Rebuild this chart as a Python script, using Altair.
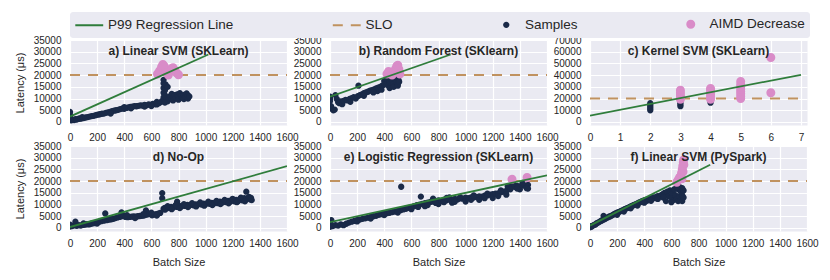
import altair as alt
import pandas as pd

# ---------------- data ----------------
ITEMS = ["P99 Regression Line", "SLO", "Samples", "AIMD Decrease"]
ITEM_COLORS = ["#2f7d3b", "#c0925f", "#1a2a48", "#d98cc8"]
SLO_LATENCY = 20000

panel_titles = [
    "a) Linear SVM (SKLearn)", "b) Random Forest (SKlearn)", "c) Kernel SVM (SKLearn)",
    "d) No-Op", "e) Logistic Regression (SKLearn)", "f) Linear SVM (PySpark)",
]

a_samples = [(0,4300),(0,3000),(0,1800),(0,900),(10,700),(20,1000),(30,800),(40,1200),(50,1000),(60,1300),
             (70,1500),(80,1400),(90,2100),(100,1700),(115,1900),(130,2100),(145,2300),(160,2500),(175,2600),
             (190,2900),(205,3100),(220,3300),(235,3500),(250,3600),(265,3900),(280,4100),(295,4300),(310,4600),
             (325,4800),(340,5000),(355,5200),(370,5500),(385,5700),(400,6300),(400,5600),(415,6000),(430,6200),
             (445,6400),(460,6500),(475,6800),(490,6700),(505,6900),(520,7100),(535,7000),(550,7300),(550,6600),
             (565,7100),(580,7500),(595,7300),(610,7700),(625,7600),(640,8600),(640,7500),(655,8000),(670,8500),
             (680,9000),(690,10500),(690,12500),(690,14500),(690,16500),(690,18000),(700,9500),(700,11500),
             (700,13500),(705,16000),(715,9800),(720,15000),(720,8800),(730,10200),(740,11000),(750,9800),
             (750,12000),(760,10500),(760,9200),(770,11500),(780,10400),(790,11800),(800,10800),(800,9500),
             (810,12300),(820,11000),(830,10300),(840,11600),(840,9800),(850,10800),(860,12200),(870,11300),
             (870,10000),(880,10900),(300,3600),(450,5800),(600,6800),(700,8300)]
a_aimd = [(645,20500),(660,21800),(675,23500),(685,24500),(695,23800),(705,22500),(715,21000),(725,20000),
          (740,21500),(750,22800),(760,23200),(772,22000),(785,21000),(800,20200)]

b_samples = [(0,10800),(0,9800),(0,9000),(8,6800),(15,5600),(25,5000),(35,5300),(40,11500),(50,9800),(60,8400),
             (70,8000),(80,8800),(90,7600),(100,9000),(115,9400),(130,9200),(145,9800),(160,10200),(175,10600),
             (190,10000),(205,11000),(210,15500),(220,11500),(235,11800),(250,12300),(265,12600),(280,12900),
             (295,13400),(310,13600),(325,13900),(340,14300),(350,13200),(355,14700),(370,15000),(380,13800),
             (385,15500),(400,16000),(400,17500),(415,16200),(420,18500),(430,15600),(440,17000),(440,14500),
             (450,16800),(460,17800),(470,16000),(470,15000),(480,18500),(490,17000),(500,19000),(500,16200),
             (500,15500),(505,18000),(510,20000),(510,17200),(150,8600),(250,11200),(320,12600)]
b_aimd = [(420,20500),(432,21500),(445,20800),(458,20000),(470,21200),(482,22500),(492,23800),(500,24200),
          (508,22500),(515,20500)]

c_samples = [(2,10000),(2,11500),(2,13000),(2,14500),(2,16000),(3,13500),(3,15000),(3,16500),(4,16500),(4,18000)]
c_aimd = [(3,19500),(3,21000),(3,23000),(3,25000),(3,27000),(4,19500),(4,21500),(4,23500),(4,25500),(4,27500),
          (4,28500),(5,20000),(5,22000),(5,24000),(5,26000),(5,28000),(5,30000),(5,32000),(5,34500),(6,25000),
          (6,55000)]

d_samples = [(0,600),(0,1400),(15,800),(30,1100),(40,2700),(50,900),(65,1200),(80,1000),(95,1300),(110,1400),
             (125,1600),(140,1500),(155,1800),(170,2000),(185,2100),(200,2400),(215,2600),(230,2900),(245,3100),
             (260,6200),(260,3300),(275,3400),(290,3600),(305,3700),(320,3900),(335,4200),(350,4500),(365,4700),
             (380,6600),(380,5000),(395,5100),(410,4700),(425,4600),(440,4700),(455,4800),(470,4900),(485,4800),
             (500,5000),(515,5100),(530,5200),(545,5300),(560,7500),(560,5600),(575,5800),(590,6000),(605,5400),
             (620,5700),(635,5900),(650,6100),(665,6400),(680,12700),(680,14900),(690,8200),(700,8600),(715,8400),
             (730,8800),(745,9000),(760,8700),(775,9200),(790,11200),(790,9000),(805,9400),(820,9200),(835,9600),
             (850,9400),(865,9800),(880,9600),(895,10000),(910,9700),(925,10100),(940,9900),(955,10300),
             (970,10000),(985,10400),(1000,10200),(1015,10600),(1030,10300),(1045,10700),(1060,10400),
             (1075,11000),(1090,10600),(1105,11200),(1120,10800),(1135,11400),(1150,11000),(1165,11600),
             (1180,11200),(1195,12200),(1210,11400),(1225,12000),(1240,11500),(1255,12400),(1270,11800),
             (1285,12700),(1300,15500),(1300,12300),(1315,12900),(1330,12200),(1340,11900),
             (700,7800),(720,9300),(750,8000),(780,9800),(810,8500),(840,10200),(870,8900),(900,10600),
             (930,9200),(960,10900),(990,9500),(1020,11200),(1050,9800),(1080,11600),(1110,10200),(1140,12000),
             (1170,10500),(1200,12400),(1230,11000),(1260,12900),(1290,11400),(1320,13300),(1335,12800),
             (420,5500),(480,4200),(540,5900),(600,6500),(640,5300),(300,4200),(200,1900),(100,1900)]
d_aimd = []

e_samples = [(0,500),(0,1500),(0,2500),(10,3300),(20,800),(40,1200),(60,1000),(80,1500),(100,1200),(120,1800),
             (140,2300),(160,2700),(180,3000),(200,3400),(220,3600),(240,3900),(260,4100),(280,4400),(300,4700),
             (320,5000),(340,5200),(360,5600),(380,5900),(400,6200),(420,6300),(440,6500),(460,6800),(480,7000),
             (500,7300),(520,7600),(525,17600),(540,7900),(560,8200),(580,8600),(600,8900),(620,9300),(640,9700),
             (660,10000),(670,13400),(680,10300),(700,10600),(700,9300),(720,10800),(740,11100),(760,11300),
             (760,12500),(780,11600),(800,11800),(800,10200),(820,11500),(840,12000),(860,11800),(880,12200),
             (880,13000),(900,12000),(900,10800),(920,12400),(940,12200),(960,12600),(980,12500),(1000,12900),
             (1000,11300),(1020,12700),(1040,13100),(1060,13000),(1080,13300),(1100,13500),(1100,12000),
             (1120,13400),(1140,13800),(1160,13900),(1180,14200),(1200,14400),(1200,12800),(1220,14600),
             (1240,14800),(1260,15200),(1280,15500),(1300,15800),(1300,14200),(1310,17800),(1320,17400),
             (1340,17800),(1360,17600),(1380,18000),(1400,17700),(1400,16500),(1420,18200),(1440,17900),
             (1460,18400),(1460,16800),
             (600,8000),(650,9000),(720,9800),(780,10700),(840,11000),(860,12800),(920,11200),(960,13200),
             (1040,12000),(1060,13900),(1140,12700),(1160,14600),(1240,13600),(1260,16000),(1330,16500),
             (1350,19000),(1380,16800),(1420,19200),(1450,17000),(300,4000),(400,5500),(500,6600),(200,2800)]
e_aimd = [(1342,20800),(1453,21600)]

f_samples = [(0,300),(0,800),(10,500),(20,900),(30,1300),(40,1500),(50,2000),(60,2300),(70,2600),(80,3000),
             (90,3300),(100,5200),(100,3600),(110,3800),(120,4200),(130,4500),(140,4800),(150,5000),(160,5300),
             (170,5600),(180,6000),(190,6200),(200,6500),(210,6700),(220,7000),(230,7300),(240,7500),(250,7800),
             (260,8100),(270,8400),(280,8600),(290,8900),(300,9200),(310,9400),(320,9700),(330,10000),(340,10200),
             (350,10500),(360,10800),(370,11000),(380,11300),(390,11600),(400,11800),(410,12000),(420,11600),
             (430,12300),(440,12000),(450,12600),(460,12800),(470,13000),(480,12700),(490,13300),(500,13600),
             (510,13300),(520,13800),(530,14100),(540,14500),(550,15000),(560,14200),(570,15500),(580,13500),
             (590,16000),(600,13000),(610,15000),(620,12000),(630,14000),(640,12500),(650,16500),(650,11500),
             (660,13500),(660,17500),(670,12000),(670,15500),(680,11500),(680,14000),(680,17000),(690,13000),
             (690,16000),
             (200,5600),(250,7000),(300,8400),(350,9600),(400,10800),(450,11600),(500,12400),(540,13000),
             (620,16500),(640,17500),(600,11000),(560,11500)]
f_aimd = [(640,19500),(650,20500),(660,21500),(668,22000),(675,23500),(680,25000),(684,26500),(688,28000),
          (690,29000),(692,27000),(686,24000),(678,21000)]

# regression line end points: (batch0, latency0, batch1, latency1)
reg_lines = [(0,2300,1020,28800),(0,10800,890,28800),(0,5400,7,40300),
             (0,400,1600,26400),(0,2500,1600,22500),(0,1000,886,27000)]

batch_ticks = [0,200,400,600,800,1000,1200,1400,1600]
kernel_ticks = [0,1,2,3,4,5,6,7]
latency_ticks = [0,5000,10000,15000,20000,25000,30000,35000]
kernel_latency_ticks = [0,10000,20000,30000,40000,50000,60000,70000]

# ---------------- style ----------------
FONT = "Liberation Sans"
BG = "#EAEAF2"
TXT = "#262626"
S = 81
# every legend symbol spans the same width (a short handle), so entries line up alike
LINE_PATH = "M-3.1,0L3.1,0"
DOT_PATH = "M-3.1,0L-3.1,0M3.1,0L3.1,0M-0.7,0A0.7,0.7,0,1,1,0.7,0A0.7,0.7,0,1,1,-0.7,0Z"
BIG_DOT_PATH = "M-3.1,0L-3.1,0M3.1,0L3.1,0M-1,0A1,1,0,1,1,1,0A1,1,0,1,1,-1,0Z"

legend_def = alt.Legend(
    title=None, orient="none", legendX=0, legendY=-28, direction="horizontal", columns=4,
    gridAlign="each", columnPadding=94.5, fillColor=BG, padding=5, cornerRadius=3,
    labelFont=FONT, labelFontSize=13.5, labelColor=TXT, symbolSize=S, symbolStrokeWidth=2,
    symbolOffset=7.5, labelOffset=12,
)


def panel(i, samples, aimd, reg, x_dom, x_ticks, y_dom, y_ticks, slo_x, left, bottom):
    rows = [(b, l, "Samples") for b, l in samples] + [(b, l, "AIMD Decrease") for b, l in aimd]
    pts = pd.DataFrame(rows, columns=["batch", "latency", "item"])
    reg_df = pd.DataFrame({"batch": [reg[0], reg[2]], "latency": [reg[1], reg[3]]})
    slo_df = pd.DataFrame({"batch": slo_x, "latency": [SLO_LATENCY, SLO_LATENCY]})

    x = alt.X("batch:Q", scale=alt.Scale(domain=x_dom, nice=False, zero=False),
              axis=alt.Axis(values=x_ticks, format="d", labelOverlap=False, labelFlush=False,
                            title="Batch Size" if bottom else None))
    y = alt.Y("latency:Q", scale=alt.Scale(domain=y_dom, nice=False, zero=False),
              axis=alt.Axis(values=y_ticks, format="d", labelOverlap=False, labelFlush=False,
                            title="Latency (μs)" if left else None))

    leg = legend_def if i == 0 else None
    slo = alt.Chart(slo_df).mark_line(color=ITEM_COLORS[1], strokeWidth=2, strokeDash=[10, 8], clip=True).encode(x=x, y=y)
    dots = alt.Chart(pts).mark_point(filled=True, opacity=1, size=S, clip=True).encode(
        x=x, y=y,
        fill=alt.Fill("item:N", scale=alt.Scale(domain=ITEMS, range=ITEM_COLORS), legend=leg),
        stroke=alt.Stroke("item:N", scale=alt.Scale(domain=ITEMS, range=[ITEM_COLORS[0], ITEM_COLORS[1], "transparent", "transparent"]), legend=leg),
        shape=alt.Shape("item:N", scale=alt.Scale(domain=ITEMS, range=[LINE_PATH, LINE_PATH, DOT_PATH, BIG_DOT_PATH]), legend=leg),
        strokeDash=alt.StrokeDash("item:N", scale=alt.Scale(domain=ITEMS, range=[[1, 0], [10, 8], [1, 0], [1, 0]]), legend=leg),
    )
    line = alt.Chart(reg_df).mark_line(color=ITEM_COLORS[0], strokeWidth=1.8, clip=True).encode(x=x, y=y)
    return alt.layer(slo, dots, line).properties(
        width=217, height=85,
        title=alt.TitleParams(panel_titles[i], font=FONT, fontSize=12, fontWeight="bold", color=TXT, offset=-23),
    )


specs = [
    (a_samples, a_aimd, [0, 1600], batch_ticks, [-1300, 35000], latency_ticks, [0, 1600]),
    (b_samples, b_aimd, [0, 1600], batch_ticks, [-1300, 35000], latency_ticks, [0, 1600]),
    (c_samples, c_aimd, [0, 7.2], kernel_ticks, [-2600, 70000], kernel_latency_ticks, [0, 7]),
    (d_samples, d_aimd, [0, 1600], batch_ticks, [-1300, 35000], latency_ticks, [0, 1600]),
    (e_samples, e_aimd, [0, 1600], batch_ticks, [-1300, 35000], latency_ticks, [0, 1600]),
    (f_samples, f_aimd, [0, 1600], batch_ticks, [-1300, 35000], latency_ticks, [0, 1600]),
]
charts = []
for i, (smp, aim, xd, xt, yd, yt, sx) in enumerate(specs):
    charts.append(panel(i, smp, aim, reg_lines[i], xd, xt, yd, yt, sx, left=(i % 3 == 0), bottom=(i >= 3)))

chart = alt.concat(*charts, columns=3, spacing={"row": 21, "column": 43}, bounds="flush").properties(
    padding={"left": 5, "top": 4, "right": 0, "bottom": 0}
).configure_view(fill=BG, stroke="transparent").configure_axis(
    domain=False, ticks=False, tickSize=0, grid=True, gridColor="white", gridWidth=1.2,
    labelFont=FONT, labelFontSize=10, labelColor=TXT, labelPadding=7,
    titleFont=FONT, titleFontSize=11, titleFontWeight="normal", titleColor=TXT, titlePadding=8,
).configure_axisY(labelPadding=9).configure_title(anchor="middle")

chart.save("out.html", embed_options={"renderer": "svg", "actions": False})
